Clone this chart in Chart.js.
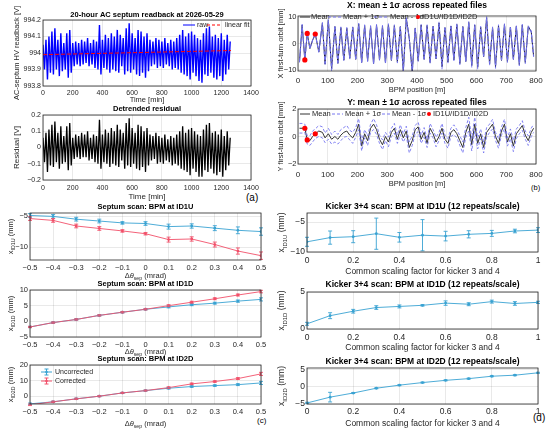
<!DOCTYPE html>
<html>
<head>
<meta charset="utf-8">
<script src="https://cdn.jsdelivr.net/npm/chart.js@4.4.1/dist/chart.umd.min.js"></script>
<style>
html, body { margin: 0; padding: 0; background: #fff; }
body { width: 550px; height: 437px; position: relative; overflow: hidden; font-family: 'Liberation Sans', Arial, sans-serif; }
canvas { position: absolute; }
.tag { position: absolute; color: #000; font-family: 'Liberation Sans', Arial, sans-serif; }
</style>
</head>
<body>
<div class="tag" style="left:246px;top:192px;font-size:10px">(a)</div>
<div class="tag" style="left:531px;top:183px;font-size:7.5px">(b)</div>
<div class="tag" style="left:257px;top:416px;font-size:8px">(c)</div>
<div class="tag" style="left:533px;top:412px;font-size:10px">(d)</div>
<script>
// (a) 20-hour septum readback, sampled every 10 min
var rawV = [994.05, 993.90, 994.08, 993.84, 994.10, 993.88, 994.13, 993.87, 994.15, 993.90,
  994.08, 993.86, 994.12, 993.89, 994.06, 993.90, 994.12, 993.85, 994.14, 993.88,
  994.06, 993.92, 994.07, 993.93, 994.06, 993.92, 994.08, 993.93, 994.07, 993.94,
  994.09, 993.92, 994.06, 993.93, 994.08, 993.91, 994.07, 993.90, 994.17, 993.87,
  994.08, 993.91, 994.11, 993.90, 994.09, 993.88, 994.12, 993.90, 994.10, 993.89,
  994.14, 993.88, 994.11, 993.92, 994.09, 993.87, 994.15, 993.89, 994.18, 993.88,
  994.12, 993.90, 994.09, 993.87, 994.14, 993.86, 994.13, 993.88, 994.10, 993.85,
  994.12, 993.89, 994.08, 993.92, 994.07, 993.93, 994.09, 993.91, 994.08, 993.92,
  994.07, 993.91, 994.09, 993.93, 994.06, 993.92, 994.08, 993.90, 994.07, 993.91,
  994.09, 993.90, 994.11, 993.88, 994.14, 993.87, 994.10, 993.86, 994.12, 993.84,
  994.13, 993.88, 994.11, 993.86, 994.09, 993.83, 994.08, 993.82, 994.12, 993.87,
  994.15, 993.86, 994.16, 993.88, 994.10, 993.85, 994.11, 993.84, 994.09, 993.86,
  994.12, 993.83, 994.08, 993.87, 994.11, 993.90, 994.07];
var resV = [0.06, -0.09, 0.09, -0.15, 0.11, -0.11, 0.14, -0.12, 0.16, -0.09,
  0.09, -0.13, 0.13, -0.10, 0.07, -0.09, 0.13, -0.14, 0.15, -0.11,
  0.06, -0.07, 0.08, -0.06, 0.07, -0.07, 0.09, -0.06, 0.08, -0.06,
  0.10, -0.08, 0.06, -0.07, 0.08, -0.09, 0.07, -0.10, 0.17, -0.13,
  0.08, -0.09, 0.11, -0.10, 0.09, -0.12, 0.12, -0.10, 0.10, -0.11,
  0.14, -0.12, 0.11, -0.08, 0.09, -0.13, 0.15, -0.11, 0.18, -0.12,
  0.12, -0.10, 0.09, -0.13, 0.14, -0.14, 0.13, -0.12, 0.10, -0.15,
  0.12, -0.11, 0.08, -0.08, 0.07, -0.07, 0.09, -0.10, 0.07, -0.09,
  0.06, -0.10, 0.08, -0.08, 0.05, -0.09, 0.07, -0.11, 0.06, -0.10,
  0.08, -0.11, 0.10, -0.13, 0.13, -0.14, 0.09, -0.15, 0.11, -0.17,
  0.12, -0.13, 0.10, -0.15, 0.08, -0.18, 0.07, -0.18, 0.11, -0.14,
  0.14, -0.15, 0.15, -0.13, 0.09, -0.16, 0.10, -0.17, 0.08, -0.15,
  0.11, -0.18, 0.07, -0.14, 0.10, -0.11, 0.06];
var rawT = rawV.map(function (v, i) { return i * 10; });
var fitT = [0, 1265];
var fitV = [993.99, 994.015];

// (b) first-turn orbit vs BPM position
var bpmS = [5, 14, 23, 31, 40, 49, 58, 70, 82, 91, 102, 113, 124, 134, 144, 154, 164, 174, 184, 194,
  204, 214, 224, 234, 244, 254, 264, 274, 284, 294, 304, 314, 324, 334, 344, 354, 364, 374, 384, 394,
  404, 414, 424, 434, 444, 454, 464, 474, 484, 494, 504, 514, 524, 534, 544, 554, 564, 574, 584, 594,
  604, 614, 624, 634, 644, 654, 664, 674, 684, 694, 704, 714, 724, 734, 744, 754, 764, 774, 784, 792];
var xMean = [-6.9, 7.0, -6.2, 3.8, -1.9, 1.2, 3.6, -3.2, 7.7, -7.8, 8.8, -9.7, 6.4, -7.5, 6.0, -6.3, 5.8, -5.6, 6.2, -6.0,
  7.4, -7.2, 6.8, -6.6, 6.5, -7.6, 7.0, -6.2, 6.6, -7.3, 7.2, -6.4, 6.8, -7.0, 6.4, -10.6, 9.6, 2.0, -10.8, 5.8,
  -6.5, 7.0, -6.0, 6.8, -7.2, 6.5, -5.8, 7.8, -8.8, 6.0, -7.0, 6.6, -6.2, 7.2, -7.6, 6.4, -6.8, 8.0, -8.4, 7.0,
  -9.0, 6.2, -5.0, 9.8, -7.8, 6.0, -8.8, 6.8, -6.4, 7.2, -6.8, 6.2, -6.0, 6.6, -8.0, 7.0, -7.2, 6.4, 4.5, -4.8];
var xSig = [0.3, 0.3, 0.3, 0.2, 0.2, 0.2, 0.2, 0.3, 0.3, 0.4, 0.3, 0.8, 0.3, 0.4, 0.3, 0.3, 0.3, 0.3, 0.3, 0.3,
  0.3, 0.4, 0.3, 0.3, 0.3, 0.4, 0.3, 0.3, 0.3, 0.4, 0.3, 0.3, 0.3, 0.4, 0.3, 0.9, 0.4, 0.3, 1.0, 0.3,
  0.4, 0.3, 0.3, 0.3, 0.4, 0.3, 0.3, 0.4, 0.9, 0.3, 0.4, 0.3, 0.3, 0.3, 0.4, 0.3, 0.4, 0.3, 0.6, 0.3,
  0.7, 0.3, 0.3, 0.4, 0.5, 0.3, 0.6, 0.3, 0.3, 0.3, 0.4, 0.3, 0.3, 0.3, 0.5, 0.3, 0.4, 0.3, 0.3, 0.3];
var yMean = [0.6, 0.6, 0.6, -0.25, -0.3, 0.0, 0.2, 0.4, 0.3, -0.1, 0.2, -0.2, 0.0, -0.2, 0.1, 0.3, 0.4, 0.1, -0.1, 0.3,
  0.9, -0.7, 0.2, -0.3, 0.6, 0.9, 0.5, -0.2, -0.6, 0.0, -0.4, 0.3, 0.6, -0.2, 0.5, -0.1, 0.4, -0.8, -0.3, 0.5,
  0.7, -0.2, 0.3, -0.5, 0.6, 0.2, -0.4, 0.0, 0.6, -0.2, -0.5, 0.3, 0.5, 0.2, -0.3, -0.8, 0.3, 0.9, -0.6, 0.9,
  -0.5, 0.2, -0.8, 0.3, 0.6, 0.9, 0.0, -0.5, 0.4, 0.9, -0.4, 0.2, -0.7, 0.2, 0.5, 0.8, 0.1, -0.3, 0.3, 0.6];
var ySig = [0.35, 0.35, 0.3, 0.3, 0.35, 0.4, 0.35, 0.4, 0.4, 0.35, 0.4, 0.35, 0.4, 0.35, 0.4, 0.35, 0.4, 0.35, 0.4, 0.35,
  0.4, 0.35, 0.3, 0.35, 0.3, 0.4, 0.35, 0.3, 0.35, 0.3, 0.35, 0.3, 0.35, 0.3, 0.35, 0.3, 0.35, 0.4, 0.35, 0.3,
  0.35, 0.3, 0.35, 0.3, 0.35, 0.3, 0.35, 0.3, 0.35, 0.3, 0.35, 0.3, 0.35, 0.3, 0.35, 0.4, 0.35, 0.5, 0.45, 0.5,
  0.4, 0.35, 0.4, 0.35, 0.3, 0.35, 0.3, 0.35, 0.3, 0.35, 0.3, 0.35, 0.4, 0.35, 0.3, 0.35, 0.3, 0.35, 0.3, 0.3];
var idS = [23, 31, 58];
var idX = [-6.2, 3.8, 3.6];
var idY = [0.6, -0.25, 0.2];

// (c) septum scan
var sepX = [-0.5, -0.4, -0.3, -0.2, -0.1, 0, 0.1, 0.2, 0.3, 0.4, 0.5];
var c1U = [-4.9, -5.05, -5.5, -5.8, -6.1, -6.2, -6.7, -6.6, -6.95, -7.3, -7.5];
var c1Ue = [0.3, 0.3, 0.3, 0.3, 0.2, 0.3, 0.4, 0.35, 0.4, 0.55, 0.6];
var c1C = [-5.4, -5.7, -6.6, -7.0, -7.4, -7.85, -8.8, -8.7, -9.6, -10.65, -11.4];
var c1Ce = [0.3, 0.3, 0.3, 0.3, 0.2, 0.2, 0.4, 0.35, 0.4, 0.5, 0.6];
var c2U = [-1.8, -0.4, 0.6, 1.9, 2.9, 3.85, 4.6, 5.3, 5.8, 6.45, 7.0];
var c2Ue = [0.2, 0.2, 0.2, 0.2, 0.2, 0.2, 0.3, 0.3, 0.3, 0.35, 0.5];
var c2C = [-1.8, -0.4, 0.6, 1.9, 2.9, 3.85, 5.0, 6.1, 7.2, 8.4, 9.5];
var c2Ce = [0.2, 0.2, 0.2, 0.2, 0.2, 0.2, 0.3, 0.3, 0.3, 0.3, 0.4];
var c3U = [-4.9, -3.6, -1.7, 0, 2.1, 3.6, 5.1, 6.2, 6.8, 7.4, 8.5];
var c3Ue = [0.5, 0.4, 0.4, 0.3, 0.3, 0.3, 0.5, 0.5, 0.5, 0.6, 1.0];
var c3C = [-5.5, -3.6, -1.7, 0, 2.1, 3.6, 5.5, 7.9, 9.4, 11.3, 14.3];
var c3Ce = [0.5, 0.4, 0.4, 0.3, 0.3, 0.3, 0.5, 0.5, 0.5, 0.6, 1.0];

// (d) kicker 3+4 scan
var kx = [0, 0.1, 0.2, 0.3, 0.4, 0.5, 0.6, 0.7, 0.8, 0.9, 1];
var k1U = [-8.3, -7.6, -7.45, -6.95, -7.55, -7.2, -7.35, -7.05, -6.9, -6.5, -6.35];
var k1Ue = [0.75, 1.1, 1.0, 2.6, 0.8, 2.6, 0.8, 0.6, 0.5, 0.3, 0.4];
var k1D = [0.7, 1.8, 2.4, 2.9, 3.05, 3.2, 3.5, 3.35, 3.7, 3.45, 3.6];
var k1De = [0.2, 0.4, 0.25, 0.25, 0.2, 0.1, 0.3, 0.2, 0.2, 0.25, 0.15];
var k2D = [-4.7, -3.0, -1.8, -0.4, 0.5, 1.25, 1.9, 2.4, 3.1, 3.4, 4.1];
var k2De = [0.2, 1.4, 0.15, 0.15, 0.15, 0.15, 0.15, 0.15, 0.15, 0.15, 0.15];

var FONT = "'Liberation Sans', Arial, sans-serif";
var INK = '#262626';
var GRID = 'rgba(38,38,38,0.15)';
var BLUE = '#3aa3d2';
var RED = '#f2506a';
var SIGC = '#7676f0';

function fmt(v) {
  var s = String(Math.round(Math.abs(v) * 1000) / 1000);
  return v < 0 ? '\u2212' + s : s;
}
function xy(xs, ys) { return xs.map(function (x, i) { return {x: x, y: ys[i]}; }); }
function shift(ys, es, k) { return ys.map(function (y, i) { return y + k * es[i]; }); }

// text made of pieces, some of them subscripts
function drawParts(c, parts, x, y, size, rot) {
  c.save();
  c.translate(x, y);
  c.rotate(rot);
  var w = 0;
  parts.forEach(function (p) {
    c.font = (p[2] ? 'italic ' : '') + (p[1] ? size * 0.7 : size) + 'px ' + FONT;
    w += c.measureText(p[0]).width;
  });
  var cx = -w / 2;
  c.textBaseline = 'middle';
  c.textAlign = 'left';
  c.fillStyle = INK;
  parts.forEach(function (p) {
    c.font = (p[2] ? 'italic ' : '') + (p[1] ? size * 0.7 : size) + 'px ' + FONT;
    c.fillText(p[0], cx, p[1] ? size * 0.4 : 0);
    cx += c.measureText(p[0]).width;
  });
  c.restore();
}

function lineSet(xs, ys, color, width, dash) {
  return {data: xy(xs, ys), borderColor: color, borderWidth: width, borderDash: dash || [], pointRadius: 0, tension: 0};
}
function markSet(xs, ys, color) {
  return {data: xy(xs, ys), borderColor: color, borderWidth: 0.9, pointRadius: 1.4, pointBackgroundColor: color, pointBorderWidth: 0, tension: 0};
}

function panel(p) {
  var m = 12, yW = p.yW, xH = 16;
  var cl = p.L - yW - m;
  var ct = Math.floor(p.tcy - p.tfs - 2);
  var w = Math.ceil(p.R - cl + m);
  var h = Math.ceil(p.xcy + 10 - ct);
  var cv = document.createElement('canvas');
  cv.width = w; cv.height = h;
  cv.style.left = cl + 'px'; cv.style.top = ct + 'px';
  cv.style.width = w + 'px'; cv.style.height = h + 'px';
  document.body.appendChild(cv);
  var pad = {left: m, top: p.T - ct, right: w - (p.R - cl), bottom: h - xH - (p.B - ct)};

  var sc = function (axis, o) {
    return {
      type: 'linear', min: o.min, max: o.max,
      grid: {color: GRID, drawTicks: false, lineWidth: 0.7},
      border: {display: false},
      ticks: {font: {size: o.fs, family: FONT}, color: INK, padding: o.pad, maxRotation: 0, autoSkip: false, callback: fmt},
      afterBuildTicks: function (s) { s.ticks = o.ticks.map(function (v) { return {value: v}; }); },
      afterFit: function (s) {
        s.paddingLeft = 0; s.paddingRight = 0; s.paddingTop = 0; s.paddingBottom = 0;
        if (axis === 'x') s.height = xH; else s.width = yW;
      }
    };
  };

  var deco = {
    id: 'deco',
    afterDatasetsDraw: function (chart) {
      var c = chart.ctx, xs = chart.scales.x, ys = chart.scales.y;
      (p.errs || []).forEach(function (s) {
        c.save();
        c.strokeStyle = s.color; c.lineWidth = 0.9;
        s.x.forEach(function (xv, i) {
          var px = xs.getPixelForValue(xv);
          var p1 = ys.getPixelForValue(s.y[i] - s.e[i]);
          var p2 = ys.getPixelForValue(s.y[i] + s.e[i]);
          c.beginPath();
          c.moveTo(px, p1); c.lineTo(px, p2);
          c.moveTo(px - 2, p1); c.lineTo(px + 2, p1);
          c.moveTo(px - 2, p2); c.lineTo(px + 2, p2);
          c.stroke();
        });
        c.restore();
      });
    },
    afterDraw: function (chart) {
      var c = chart.ctx, a = chart.chartArea;
      c.save();
      c.strokeStyle = INK; c.lineWidth = 0.8;
      c.strokeRect(a.left, a.top, a.right - a.left, a.bottom - a.top);
      c.fillStyle = '#000';
      c.font = 'bold ' + p.tfs + 'px ' + FONT;
      c.textAlign = 'center'; c.textBaseline = 'middle';
      c.fillText(p.title, (a.left + a.right) / 2, p.tcy - ct);
      drawParts(c, p.ylab, p.ylx - cl, (a.top + a.bottom) / 2, p.lfs, -Math.PI / 2);
      drawParts(c, p.xlab, (a.left + a.right) / 2, p.xcy - ct, p.lfs, 0);
      (p.legend || []).forEach(function (it) {
        var y = it.y - ct, x0 = it.sx - cl, x1 = x0 + (it.sw || 0);
        c.strokeStyle = it.color; c.fillStyle = it.color; c.lineWidth = it.lw || 1;
        if (it.sw) {
          c.setLineDash(it.dash || []);
          c.beginPath(); c.moveTo(x0, y); c.lineTo(x1, y); c.stroke();
          c.setLineDash([]);
        }
        if (it.bar) {
          var mx = (x0 + x1) / 2;
          c.beginPath();
          c.moveTo(mx, y - it.bar); c.lineTo(mx, y + it.bar);
          c.moveTo(mx - 2, y - it.bar); c.lineTo(mx + 2, y - it.bar);
          c.moveTo(mx - 2, y + it.bar); c.lineTo(mx + 2, y + it.bar);
          c.stroke();
        }
        if (it.dot) {
          c.beginPath(); c.arc(it.sw ? (x0 + x1) / 2 : x0, y, it.dot, 0, 2 * Math.PI); c.fill();
        }
        c.fillStyle = INK;
        c.font = p.gfs + 'px ' + FONT;
        c.textAlign = 'left'; c.textBaseline = 'middle';
        c.fillText(it.text, it.tx - cl, y);
      });
      c.restore();
    }
  };

  new Chart(cv, {
    type: 'line',
    data: {datasets: p.sets},
    options: {
      responsive: false, animation: false, events: [],
      layout: {padding: pad},
      plugins: {legend: {display: false}, tooltip: {enabled: false}, title: {display: false}},
      scales: {x: sc('x', p.x), y: sc('y', p.y)}
    },
    plugins: [deco]
  });
}

var tA = [0, 200, 400, 600, 800, 1000, 1200, 1400];
var tB = [0, 100, 200, 300, 400, 500, 600, 700, 800];
var tK = [0, 0.2, 0.4, 0.6, 0.8, 1];
var sepLab = [['\u0394', 0, 0], ['\u03b8', 0, 1], ['sep', 1, 0], [' (mrad)', 0, 0]];
var kLab = [['Common scaling factor for kicker 3 and 4', 0, 0]];

// (a) top
panel({L: 43, T: 20, R: 251, B: 86, yW: 34, title: '20-hour AC septum readback at 2026-05-29', tfs: 7.5, tcy: 15,
  x: {min: 0, max: 1400, ticks: tA, fs: 7, pad: 3},
  y: {min: 993.8, max: 994.2, ticks: [993.8, 993.9, 994, 994.1, 994.2], fs: 7, pad: 2},
  lfs: 7.5, ylab: [['AC-septum HV readback [V]', 0, 0]], ylx: 17, xlab: [['Time [min]', 0, 0]], xcy: 100,
  sets: [lineSet(fitT, fitV, 'red', 1, [4, 2]), lineSet(rawT, rawV, '#0000ff', 1.4)],
  gfs: 7,
  legend: [
    {sx: 183, sw: 12, color: '#0000ff', y: 25, tx: 197, text: 'raw'},
    {sx: 207, sw: 15, color: 'red', dash: [3, 2], y: 25, tx: 225, text: 'linear fit'}
  ]});

// (a) bottom
panel({L: 43, T: 115, R: 251, B: 180, yW: 34, title: 'Detrended residual', tfs: 7.5, tcy: 109,
  x: {min: 0, max: 1400, ticks: tA, fs: 7, pad: 4},
  y: {min: -0.2, max: 0.2, ticks: [-0.2, -0.1, 0, 0.1, 0.2], fs: 7, pad: 2},
  lfs: 8, ylab: [['Residual [V]', 0, 0]], ylx: 17, xlab: [['Time [min]', 0, 0]], xcy: 197,
  sets: [lineSet(rawT, resV, '#000000', 1.3)]});

// (b) X orbit
panel({L: 298, T: 16, R: 536, B: 71, yW: 26, title: 'X: mean \u00b1 1\u03c3 across repeated files', tfs: 8.5, tcy: 6,
  x: {min: 0, max: 800, ticks: tB, fs: 8, pad: 4.5},
  y: {min: -10.4, max: 10.4, ticks: [-10, 0, 10], fs: 7.5, pad: 1.5},
  lfs: 7.5, ylab: [['X first-turn orbit [mm]', 0, 0]], ylx: 281, xlab: [['BPM position [m]', 0, 0]], xcy: 90,
  sets: [
    {data: xy(idS, idX), showLine: false, pointRadius: 2.6, pointBackgroundColor: 'red', pointBorderWidth: 0, borderColor: 'red'},
    lineSet(bpmS, shift(xMean, xSig, 1), SIGC, 0.9, [3, 2]),
    lineSet(bpmS, shift(xMean, xSig, -1), SIGC, 0.9, [3, 2]),
    lineSet(bpmS, xMean, '#1a1a40', 1)
  ],
  gfs: 7.5,
  legend: [
    {sx: 300, sw: 10, color: '#333', y: 17, tx: 311, text: 'Mean'},
    {sx: 328, sw: 14, color: SIGC, dash: [3, 2], y: 17, tx: 343, text: 'Mean + 1\u03c3'},
    {sx: 374, sw: 14, color: SIGC, dash: [3, 2], y: 17, tx: 390, text: 'Mean - 1\u03c3'},
    {sx: 418, dot: 2, color: 'red', y: 17, tx: 422, text: 'ID1U/ID1D/ID2D'}
  ]});

// (b) Y orbit
panel({L: 298, T: 109, R: 536, B: 164, yW: 26, title: 'Y: mean \u00b1 1\u03c3 across repeated files', tfs: 8.5, tcy: 103,
  x: {min: 0, max: 800, ticks: tB, fs: 8, pad: 5.5},
  y: {min: -2, max: 2, ticks: [-2, 0, 2], fs: 7.5, pad: 1.5},
  lfs: 7.5, ylab: [['Y first-turn orbit [mm]', 0, 0]], ylx: 281, xlab: [['BPM position [m]', 0, 0]], xcy: 184,
  sets: [
    {data: xy(idS, idY), showLine: false, pointRadius: 2.6, pointBackgroundColor: 'red', pointBorderWidth: 0, borderColor: 'red'},
    lineSet(bpmS, shift(yMean, ySig, 1), SIGC, 0.9, [3, 2]),
    lineSet(bpmS, shift(yMean, ySig, -1), SIGC, 0.9, [3, 2]),
    lineSet(bpmS, yMean, '#333333', 1)
  ],
  gfs: 7.5,
  legend: [
    {sx: 300, sw: 10, color: '#333', y: 114, tx: 312, text: 'Mean'},
    {sx: 332, sw: 11, color: SIGC, dash: [3, 2], y: 114, tx: 345, text: 'Mean + 1\u03c3'},
    {sx: 382, sw: 8, color: SIGC, dash: [3, 2], y: 114, tx: 392, text: 'Mean - 1\u03c3'},
    {sx: 429, dot: 2, color: 'red', y: 114, tx: 433, text: 'ID1U/ID1D/ID2D'}
  ]});

// (c) septum scan panels
panel({L: 30, T: 213, R: 261, B: 260, yW: 27, title: 'Septum scan: BPM at ID1U', tfs: 7.5, tcy: 207,
  x: {min: -0.5, max: 0.5, ticks: sepX, fs: 7.5, pad: 3},
  y: {min: -12.1, max: -4.5, ticks: [-10, -5], fs: 7.5, pad: 2},
  lfs: 7.5, ylab: [['x', 0, 0], ['ID1U', 1, 0], [' (mm)', 0, 0]], ylx: 11, xlab: sepLab, xcy: 276,
  sets: [markSet(sepX, c1C, RED), markSet(sepX, c1U, BLUE)],
  errs: [{x: sepX, y: c1U, e: c1Ue, color: BLUE}, {x: sepX, y: c1C, e: c1Ce, color: RED}]});

panel({L: 30, T: 290, R: 261, B: 337, yW: 27, title: 'Septum scan: BPM at ID1D', tfs: 7.5, tcy: 284,
  x: {min: -0.5, max: 0.5, ticks: sepX, fs: 7.5, pad: 3},
  y: {min: -5, max: 10, ticks: [-5, 0, 5, 10], fs: 7.5, pad: 2},
  lfs: 7.5, ylab: [['x', 0, 0], ['ID1D', 1, 0], [' (mm)', 0, 0]], ylx: 11, xlab: sepLab, xcy: 352,
  sets: [markSet(sepX, c2C, RED), markSet(sepX, c2U, BLUE)],
  errs: [{x: sepX, y: c2U, e: c2Ue, color: BLUE}, {x: sepX, y: c2C, e: c2Ce, color: RED}]});

panel({L: 30, T: 365, R: 261, B: 404, yW: 27, title: 'Septum scan: BPM at ID2D', tfs: 7.5, tcy: 359,
  x: {min: -0.5, max: 0.5, ticks: sepX, fs: 7.5, pad: 3},
  y: {min: -5, max: 20, ticks: [0, 10, 20], fs: 7.5, pad: 2},
  lfs: 7.5, ylab: [['x', 0, 0], ['ID2D', 1, 0], [' (mm)', 0, 0]], ylx: 11, xlab: sepLab, xcy: 424,
  sets: [markSet(sepX, c3C, RED), markSet(sepX, c3U, BLUE)],
  errs: [{x: sepX, y: c3U, e: c3Ue, color: BLUE}, {x: sepX, y: c3C, e: c3Ce, color: RED}],
  gfs: 7,
  legend: [
    {sx: 41, sw: 11, color: BLUE, bar: 3, dot: 1.3, y: 372, tx: 55, text: 'Uncorrected'},
    {sx: 41, sw: 11, color: RED, bar: 3, dot: 1.3, y: 381, tx: 55, text: 'Corrected'}
  ]});

// (d) kicker scan panels
panel({L: 307, T: 213, R: 538, B: 252, yW: 33, title: 'Kicker 3+4 scan: BPM at ID1U (12 repeats/scale)', tfs: 8.5, tcy: 207,
  x: {min: 0, max: 1, ticks: tK, fs: 8.5, pad: 3.3},
  y: {min: -10, max: -3.5, ticks: [-10, -5], fs: 8.5, pad: 2},
  lfs: 8.5, ylab: [['x', 0, 0], ['ID1U', 1, 0], [' (mm)', 0, 0]], ylx: 282, xlab: kLab, xcy: 272,
  sets: [markSet(kx, k1U, BLUE)],
  errs: [{x: kx, y: k1U, e: k1Ue, color: BLUE}]});

panel({L: 307, T: 292, R: 538, B: 329, yW: 33, title: 'Kicker 3+4 scan: BPM at ID1D (12 repeats/scale)', tfs: 8.5, tcy: 285,
  x: {min: 0, max: 1, ticks: tK, fs: 8.5, pad: 3.3},
  y: {min: 0, max: 5, ticks: [0, 5], fs: 8.5, pad: 2},
  lfs: 8.5, ylab: [['x', 0, 0], ['ID1D', 1, 0], [' (mm)', 0, 0]], ylx: 282, xlab: kLab, xcy: 348,
  sets: [markSet(kx, k1D, BLUE)],
  errs: [{x: kx, y: k1D, e: k1De, color: BLUE}]});

panel({L: 307, T: 368, R: 538, B: 404, yW: 33, title: 'Kicker 3+4 scan: BPM at ID2D (12 repeats/scale)', tfs: 8.5, tcy: 362,
  x: {min: 0, max: 1, ticks: tK, fs: 8.5, pad: 2.5},
  y: {min: -5, max: 5.5, ticks: [-5, 0, 5], fs: 8.5, pad: 2},
  lfs: 8.5, ylab: [['x', 0, 0], ['ID2D', 1, 0], [' (mm)', 0, 0]], ylx: 282, xlab: kLab, xcy: 424,
  sets: [markSet(kx, k2D, BLUE)],
  errs: [{x: kx, y: k2D, e: k2De, color: BLUE}]});
</script>
</body>
</html>
